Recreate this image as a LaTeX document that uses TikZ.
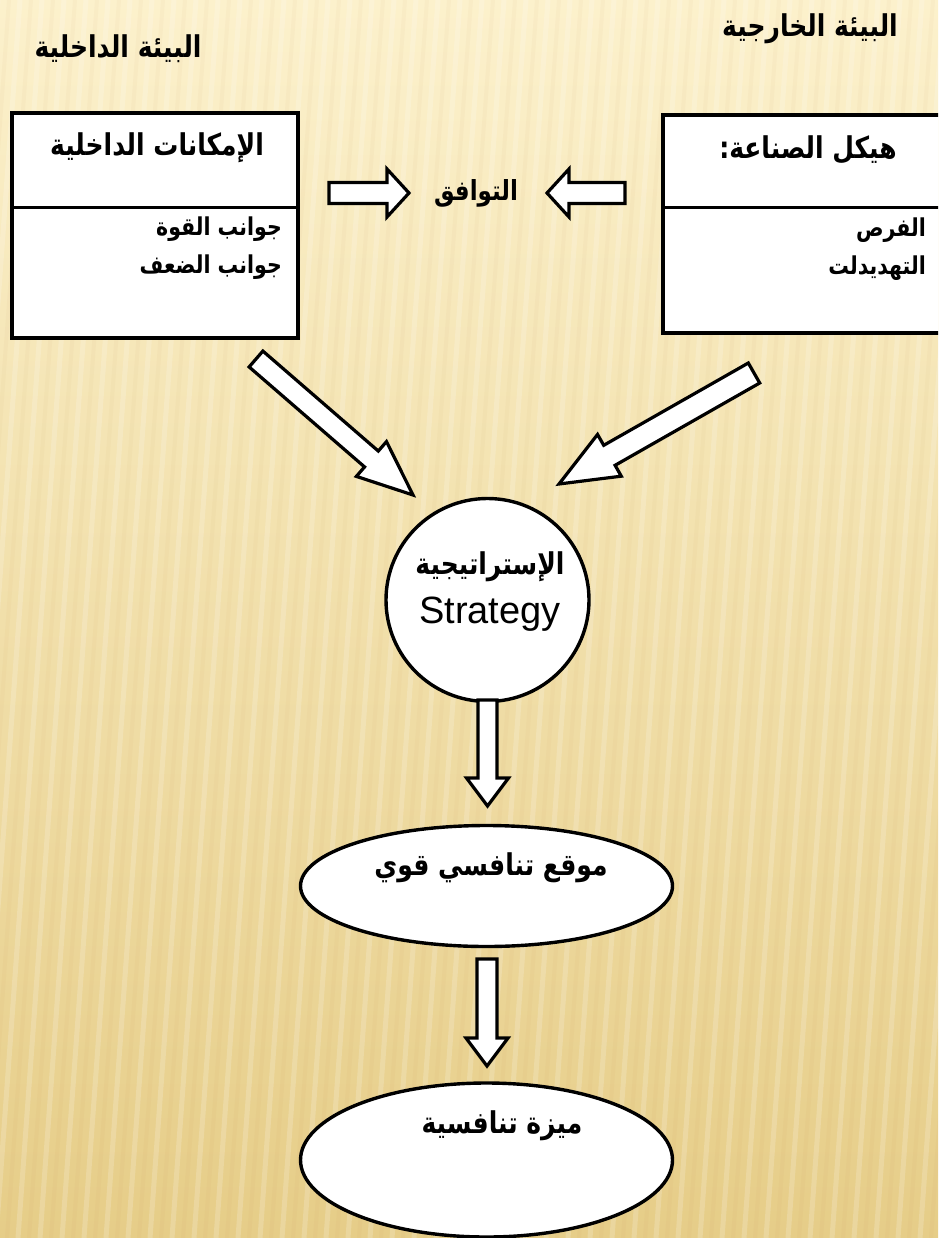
\documentclass[tikz,border=0pt]{standalone}
\usepackage{fontspec}
\setmainfont{Liberation Sans}
\newfontfamily\arabicfont[Script=Arabic]{DejaVu Sans}
\TeXXeTstate=1
\usetikzlibrary{calc,shapes.geometric}

% right-to-left bold Arabic text, set a little taller
\newcommand\artext[1]{\scalebox{1}[1.2]{\arabicfont\bfseries\beginR #1\endR}}

% hollow block arrow from #1 (tail) to #2 (tip):
% #3 half shaft width, #4 half head width, #5 head length
\newcommand\blockarrow[5]{%
  \coordinate (ba-h) at ($(#2)!#5!(#1)$);
  \draw[fatarrow]
    ($(#1)!#3!90:(#2)$) -- ($(ba-h)!#3!90:(#2)$) -- ($(ba-h)!#4!90:(#2)$) -- (#2)
    -- ($(ba-h)!#4!-90:(#2)$) -- ($(ba-h)!#3!-90:(#2)$) -- ($(#1)!#3!-90:(#2)$) -- cycle;}

\definecolor{bgtop}{RGB}{252,241,204}
\definecolor{bgmid}{RGB}{251,236,190}
\definecolor{bgbot}{RGB}{230,205,136}

\tikzset{
  outline/.style={draw=black, line width=3.4pt, fill=white},
  fatarrow/.style={draw=black, line width=3.2pt, fill=white, line join=miter},
  title/.style={inner sep=0pt, font=\fontsize{25}{28}\selectfont},
  head/.style={inner sep=0pt, font=\fontsize{25}{28}\selectfont},
  item/.style={inner sep=0pt, font=\fontsize{20.5}{24}\selectfont, anchor=east},
  oval/.style={ellipse, outline, inner sep=0pt},
}

\begin{document}
\begin{tikzpicture}[x=1pt, y=-1pt]
  \useasboundingbox (0,0) rectangle (938,1238);
  \clip (0,0) rectangle (938,1238);

  % paper background
  \shade[top color=bgtop, middle color=bgmid, bottom color=bgbot] (0,0) rectangle (938,1238);
  \foreach \x in {-200,-178,...,1100} {
    \draw[white, opacity=0.18, line width=5pt] (\x,0) -- (\x-90,1238);
    \draw[brown, opacity=0.04, line width=4pt] (\x+11,0) -- (\x-79,1238);
  }

  % section titles
  \node[title] (tin)  at (118,49) {\artext{البيئة الداخلية}};
  \node[title] (tout) at (810,29) {\artext{البيئة الخارجية}};

  % internal capabilities box
  \node[rectangle, outline, minimum width=286pt, minimum height=225pt] (boxin) at (155,225.5) {};
  \draw[line width=3pt] (12,208) -- (298,208);
  \node[head] (hin) at (157,148) {\artext{الإمكانات الداخلية}};
  \node[item] (s1) at (282,229) {\artext{جوانب القوة}};
  \node[item] (s2) at (282,267) {\artext{جوانب الضعف}};

  % industry structure box
  \node[rectangle, outline, minimum width=290pt, minimum height=218pt] (boxout) at (808,224) {};
  \draw[line width=3pt] (663,208) -- (953,208);
  \node[head] (hout) at (808,150) {\artext{هيكل الصناعة:}};
  \node[item] (o1) at (926,230) {\artext{الفرص}};
  \node[item] (o2) at (926,268) {\artext{التهديدلت}};

  % fit between the two environments
  \node[head, font=\fontsize{23}{26}\selectfont] (fit) at (476,193) {\artext{التوافق}};
  \coordinate (fl1) at (329,193);
  \coordinate (fl2) at (409,193);
  \coordinate (fr1) at (625,193);
  \coordinate (fr2) at (547,193);
  \blockarrow{fl1}{fl2}{10.5pt}{24pt}{22pt}
  \blockarrow{fr1}{fr2}{10.5pt}{24pt}{22pt}

  % strategy circle
  \node[circle, outline, minimum size=203pt] (strat) at (487.5,600) {};
  \node[head] (sar) at (490,567) {\artext{الإستراتيجية}};
  \node[inner sep=0pt, font=\fontsize{38}{41}\selectfont] (sen) at (490,614) {Strategy};

  % arrows from both boxes into the strategy
  \coordinate (dl1) at (256,359);
  \coordinate (dl2) at (413,495);
  \coordinate (dr1) at (754,373);
  \coordinate (dr2) at (559,484);
  \blockarrow{dl1}{dl2}{10.5pt}{23pt}{55pt}
  \blockarrow{dr1}{dr2}{11.5pt}{24pt}{58pt}

  % outcomes
  \node[oval, minimum width=372pt, minimum height=121pt] (pos) at (486.5,886) {};
  \node[head] (post) at (491,868) {\artext{موقع تنافسي قوي}};
  \node[oval, minimum width=372pt, minimum height=154pt] (adv) at (486.5,1160) {};
  \node[head] (advt) at (502,1126) {\artext{ميزة تنافسية}};

  \coordinate (a1) at (487.5,700);
  \coordinate (a2) at (487.5,806);
  \coordinate (b1) at (487,959);
  \coordinate (b2) at (487,1066);
  \blockarrow{a1}{a2}{9.5pt}{21pt}{28pt}
  \blockarrow{b1}{b2}{10pt}{21pt}{28pt}
\end{tikzpicture}
\end{document}
